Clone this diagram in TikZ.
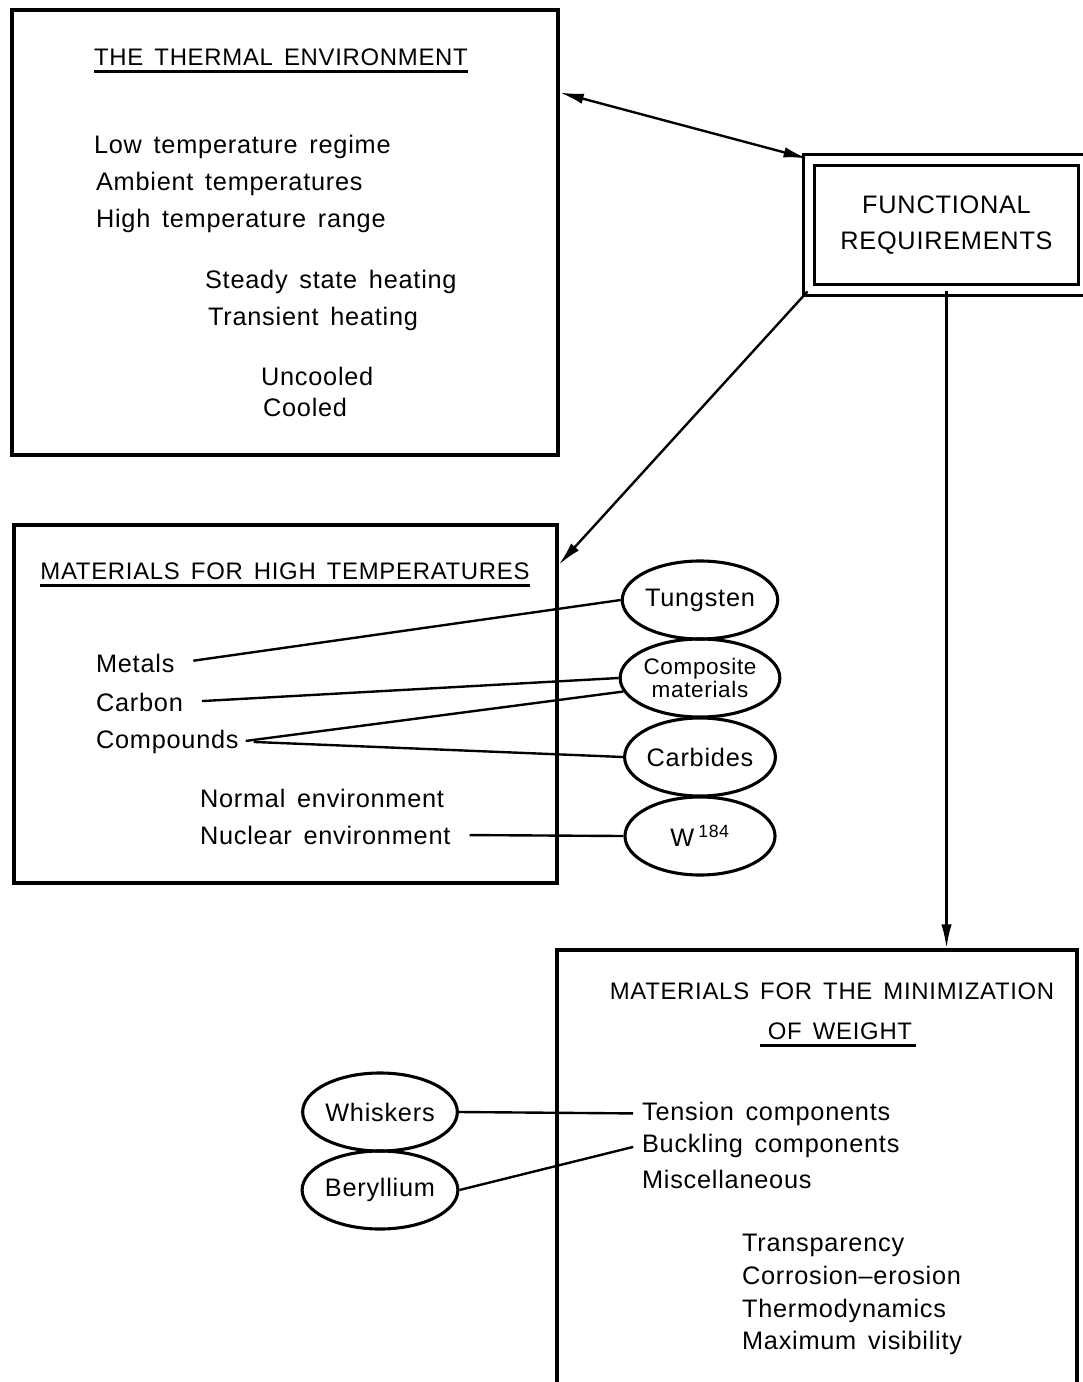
\documentclass[tikz,border=0pt]{standalone}
\usepackage{fontspec}
\setmainfont{Liberation Sans}[LetterSpace=3,WordSpace=1.5]
\usepackage{tikz}
\usetikzlibrary{positioning,arrows.meta, shapes.geometric}

\begin{document}
\begin{tikzpicture}[x=0.025cm, y=-0.025cm,
        every node/.style={font=\fontsize{18}{22}\selectfont, inner sep=2pt},
        box/.style={draw, line width=2.4pt, inner sep=0},
        oval/.style={draw, ellipse, line width=2.2pt, minimum width=3.75cm, minimum height=1.95cm, inner sep=0},
        head/.style={font=\fontsize{17}{22}\selectfont, inner xsep=0, inner ysep=4pt},
        item/.style={anchor=base west},
        link/.style={line width=1.7pt},
        >={Latex[length=6mm,width=2.6mm]}]
    \useasboundingbox (0,0) rectangle (1083,1382);

    % boxes
    \node[box, minimum width=13.65cm,  minimum height=11.125cm] (te) at (285,232.5) {};
    \node[box, minimum width=13.575cm, minimum height=8.95cm]   (mh) at (285.5,704) {};
    \node[box, minimum width=13cm,     minimum height=11.75cm]  (mw) at (817,1185) {};
    \node[draw, double, line width=2pt, double distance=5.5pt, minimum width=6.875cm, minimum height=3.25cm,
          inner sep=0, align=center] (fr) at (946.5,225) {FUNCTIONAL\\[3pt]REQUIREMENTS};

    % thermal environment
    \node[head] (teh) at (281,57) {THE THERMAL ENVIRONMENT};
    \node[item] (lo)  at (91,153) {Low temperature regime};
    \node[item] (amb) at (93,190) {Ambient temperatures};
    \node[item] (hi)  at (93,227) {High temperature range};
    \node[item] (st)  at (202,288) {Steady state heating};
    \node[item] (tr)  at (205,325) {Transient heating};
    \node[item] (unc) at (258,385) {Uncooled};
    \node[item] (coo) at (260,416) {Cooled};

    % high temperatures
    \node[head] (mhh) at (285,571) {MATERIALS FOR HIGH TEMPERATURES};
    \node[item] (met) at (93,672) {Metals};
    \node[item] (car) at (93,711) {Carbon};
    \node[item] (cmp) at (93,748) {Compounds};
    \node[item] (nor) at (197,807) {Normal environment};
    \node[item] (nuc) at (197,844) {Nuclear environment};

    \node[oval] (tu) at (700,600) {Tungsten};
    \node[oval, font=\fontsize{16}{14}\selectfont, align=center] (cm) at (700,678) {Composite\\materials};
    \node[oval] (cb) at (700,757) {Carbides};
    \node[oval] (w)  at (700,836) {W\,\textsuperscript{184}};

    % minimization of weight
    \node[head] (mwh1) at (832,991) {MATERIALS FOR THE MINIMIZATION};
    \node[head] (mwh2) at (840,1031) {OF WEIGHT};
    \node[item] (ten) at (639,1120) {Tension components};
    \node[item] (buc) at (639,1152) {Buckling components};
    \node[item] (mis) at (639,1188) {Miscellaneous};
    \node[item] (tra) at (739,1251) {Transparency};
    \node[item] (cor) at (739,1284) {Corrosion--erosion};
    \node[item] (the) at (739,1317) {Thermodynamics};
    \node[item] (max) at (739,1349) {Maximum visibility};

    \node[oval] (wh) at (380,1112) {Whiskers};
    \node[oval] (be) at (380,1190) {Beryllium};

    % underlines
    \draw[link] (teh.south west) -- (teh.south east);
    \draw[link] (mhh.south west) -- (mhh.south east);
    \draw[link] ([xshift=-2mm]mwh2.south west) -- ([xshift=1mm]mwh2.south east);

    % arrows
    \draw[link, <->] (te.27) -- (fr.north west);
    \draw[link, ->]  (fr.south west) -- (mh.27);
    \draw[link, ->]  (fr.south) -- (fr.south |- mw.north);

    % links
    \draw[link, shorten <=4mm] (met.east) -- (tu.west);
    \draw[link, shorten <=4mm] (car.east) -- (cm.west);
    \draw[link, shorten <=1mm] (cmp.east) -- (cm.190);
    \draw[link, shorten <=3mm] (cmp.east) -- (cb.west);
    \draw[link, shorten <=4mm] (nuc.east) -- (w.west);
    \draw[link, shorten >=1.5mm] (wh.east) -- (ten.west);
    \draw[link, shorten >=1.5mm] (be.east) -- (buc.west);
\end{tikzpicture}
\end{document}
